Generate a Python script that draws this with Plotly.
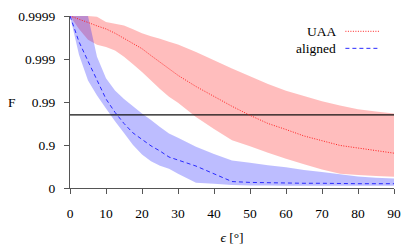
import plotly.graph_objects as go

# epsilon in degrees
eps_deg = [0, 2.5, 5, 7.5, 10, 12.5, 15, 17.5, 20, 22.5, 25, 27.5, 30, 35, 40, 45, 50, 55, 60, 65, 70, 75, 80, 85, 90]

# log10(1 - F) values
uaa_mid = [-4.0, -3.93, -3.85, -3.77, -3.70, -3.60, -3.48, -3.36, -3.24, -3.08, -2.93, -2.77, -2.62,
           -2.36, -2.12, -1.90, -1.69, -1.50, -1.36, -1.21, -1.10, -0.99, -0.93, -0.87, -0.81]
uaa_best = [-4.0, -4.0, -4.0, -3.98, -3.86, -3.82, -3.78, -3.69, -3.60, -3.53, -3.47, -3.40, -3.34,
            -3.16, -2.97, -2.78, -2.60, -2.42, -2.26, -2.14, -2.02, -1.92, -1.83, -1.78, -1.73]
uaa_worst = [-4.0, -3.70, -3.45, -3.33, -3.28, -3.20, -3.05, -2.88, -2.70, -2.50, -2.30, -2.12, -1.98,
             -1.65, -1.37, -1.11, -0.97, -0.82, -0.68, -0.55, -0.43, -0.33, -0.30, -0.28, -0.26]

aligned_mid = [-4.0, -3.40, -2.95, -2.50, -2.07, -1.76, -1.50, -1.28, -1.12, -0.98, -0.86, -0.72, -0.65,
               -0.51, -0.33, -0.15, -0.13, -0.12, -0.11, -0.11, -0.11, -0.10, -0.10, -0.10, -0.10]
aligned_best = [-4.0, -4.0, -4.0, -3.05, -2.55, -2.27, -2.07, -1.90, -1.73, -1.58, -1.42, -1.27, -1.17,
                -0.96, -0.79, -0.64, -0.59, -0.53, -0.48, -0.42, -0.37, -0.32, -0.27, -0.24, -0.22]
aligned_worst = [-4.0, -3.10, -2.50, -2.15, -1.85, -1.55, -1.28, -1.00, -0.78, -0.62, -0.52, -0.45, -0.33,
                 -0.12, -0.10, -0.07, -0.06, -0.06, -0.05, -0.05, -0.05, -0.05, -0.05, -0.05, -0.05]

threshold_F = 0.98
x_span = [0, 90]

y_tick_infid = [1e-4, 1e-3, 1e-2, 1e-1, 1]
y_tick_text = ["0.9999", "0.999", "0.99", "0.9", "0"]
x_ticks = [0, 10, 20, 30, 40, 50, 60, 70, 80, 90]


def infid(vals):
    return [10 ** v for v in vals]


FONT = "Liberation Serif, DejaVu Serif, serif"
FS = 13.5

fig = go.Figure()


def band(lo, hi, color):
    fig.add_trace(go.Scatter(
        x=eps_deg + eps_deg[::-1],
        y=infid(hi) + infid(lo)[::-1],
        fill="toself", fillcolor=color, mode="none", showlegend=False,
        hoverinfo="skip"))


band(uaa_worst, uaa_best, "rgba(255,0,0,0.26)")
band(aligned_worst, aligned_best, "rgba(0,0,255,0.26)")

fig.add_trace(go.Scatter(x=x_span, y=[1 - threshold_F] * 2, mode="lines",
                         line=dict(color="#111111", width=1.2), showlegend=False))

fig.add_trace(go.Scatter(x=eps_deg, y=infid(uaa_mid), mode="lines",
                         line=dict(color="#ff2020", width=1, dash="1px,1.5px"),
                         name="UAA", showlegend=False))
fig.add_trace(go.Scatter(x=eps_deg, y=infid(aligned_mid), mode="lines",
                         line=dict(color="#2a2aff", width=1, dash="4px,3px"),
                         name="aligned", showlegend=False))

# manual legend (text left of sample line)
legend_items = [("UAA", "#ff2020", "1px,1.5px", 0.911), ("aligned", "#2a2aff", "4px,3px", 0.812)]
for label, col, dash, yy in legend_items:
    fig.add_annotation(x=0.828, y=yy, xref="paper", yref="paper", text=label, showarrow=False,
                       xanchor="right", yanchor="middle", font=dict(family=FONT, size=FS, color="#000"))
    fig.add_shape(type="line", xref="paper", yref="paper", x0=0.85, x1=0.958, y0=yy, y1=yy,
                  line=dict(color=col, width=1, dash=dash))

fig.add_annotation(x=-0.178, y=0.5, xref="paper", yref="paper", text="F", showarrow=False,
                   xanchor="center", yanchor="middle", font=dict(family=FONT, size=FS, color="#000"))

fig.update_layout(
    width=415, height=250,
    margin=dict(l=70, r=21, t=16, b=62),
    plot_bgcolor="white", paper_bgcolor="white",
    font=dict(family=FONT, size=FS, color="#000"),
    xaxis=dict(range=[0, 90], tickvals=x_ticks, showgrid=False, zeroline=False, automargin=False,
               showline=True, linecolor="#555", linewidth=1, ticks="outside", ticklen=5,
               tickcolor="#555", ticklabelstandoff=8,
               title=dict(text="<i>ϵ</i> [°]", font=dict(family=FONT, size=FS), standoff=12)),
    yaxis=dict(type="log", range=[0, -4], tickvals=y_tick_infid, ticktext=y_tick_text, automargin=False,
               showgrid=False, zeroline=False, showline=True, linecolor="#555", linewidth=1,
               ticks="outside", ticklen=5, tickcolor="#555", ticklabelstandoff=6),
)

fig.write_html("out.html", config={"displayModeBar": False},
               post_script="document.body.style.margin='0';")
